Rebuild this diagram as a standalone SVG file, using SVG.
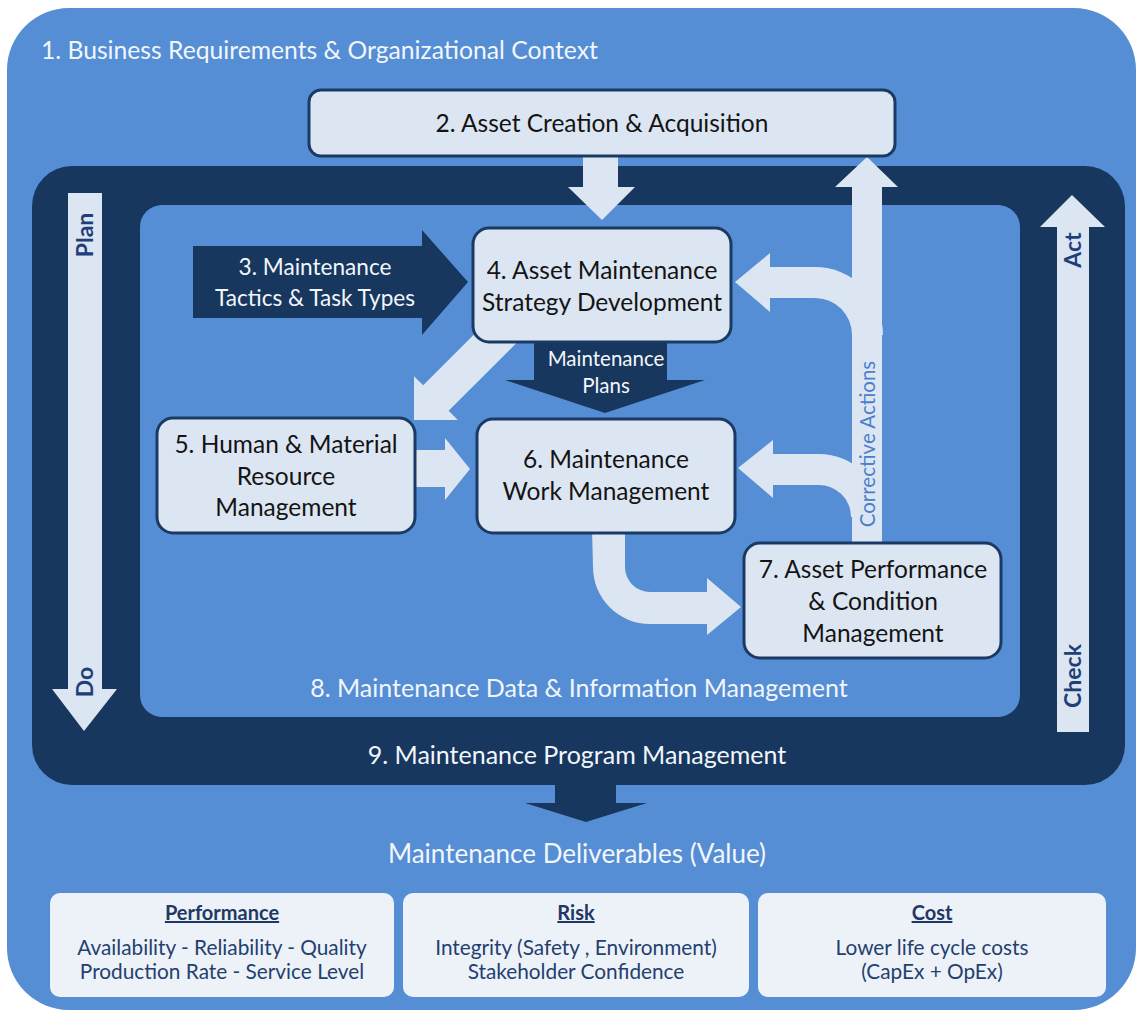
<svg xmlns="http://www.w3.org/2000/svg" width="1143" height="1017" viewBox="0 0 1143 1017">
<style>
text{font-family:Lato,"Noto Sans","Liberation Sans",sans-serif}
.box{fill:#DCE6F2;stroke:#1B3A63;stroke-width:3}
.bt{font-size:24.5px;fill:#141414;text-anchor:middle}
.lt{fill:#DCE6F2}
.nv{fill:#17375E}
.wt{fill:#F2F6FB;text-anchor:middle}
.pd{font-size:23px;font-weight:bold;fill:#1F3F7A;text-anchor:middle}
.vb{fill:#EDF2F9}
.ht{font-size:20px;font-weight:bold;fill:#1F3864;text-anchor:middle;text-decoration:underline}
.bd{font-size:20.8px;fill:#24406E;text-anchor:middle}
</style>
<rect width="1143" height="1017" fill="#FFFFFF"/>
<g id="n1">
<rect x="7" y="8" width="1129" height="1002" rx="62" fill="#558ED5"/>
<text x="41" y="59" font-size="24.7" fill="#F2F6FB">1. Business Requirements &amp; Organizational Context</text>
</g>
<g id="n9">
<rect x="32" y="166" width="1093" height="619" rx="40" class="nv"/>
<text x="577" y="764" font-size="25" class="wt">9. Maintenance Program Management</text>
</g>
<g id="n8">
<rect x="140" y="205" width="880" height="512" rx="22" fill="#558ED5"/>
<text x="579" y="697" font-size="25" class="wt" fill="#DCE6F2">8. Maintenance Data &amp; Information Management</text>
</g>
<g id="pdca">
<polygon class="lt" points="68,193 102,193 102,689 117,689 84,731 52,689 68,689"/>
<text class="pd" transform="translate(93,235) rotate(-90)">Plan</text>
<text class="pd" transform="translate(93,682) rotate(-90)">Do</text>
<polygon class="lt" points="1057,732 1057,227 1040,227 1072,195 1105,227 1089,227 1089,732"/>
<text class="pd" transform="translate(1081,250) rotate(-90)">Act</text>
<text class="pd" transform="translate(1081,676) rotate(-90)">Check</text>
</g>
<g id="connectors">
<polygon class="lt" points="583,150 618,150 618,187 635,187 602,220 568,187 583,187"/>
<polygon class="lt" transform="translate(414,420) rotate(135)" points="-130,-18 -31,-18 -31,-31 0,0 -31,31 -31,18 -130,18"/>
<polygon class="lt" points="410,450 445,450 445,438 470,469 445,500 445,487 410,487"/>
<polygon class="lt" points="852,548 852,187 835,187 867,157 898,187 882,187 882,548"/>
<path class="lt" d="M883,335 A68,68 0 0 0 815,267 L770,267 L770,253 L735,282 L770,312 L770,298 L815,298 A37,37 0 0 1 852,335 Z"/>
<path class="lt" d="M882,517 A63,63 0 0 0 819,454 L773,454 L773,440 L738,468 L773,498 L773,485 L819,485 A32,32 0 0 1 851,517 Z"/>
<path class="lt" d="M592,528 L625,528 L625,567 A25,25 0 0 0 650,592 L707,592 L707,578 L741,607 L707,635 L707,624 L650,624 A57,57 0 0 1 593,567 Z"/>
<text transform="translate(875,444) rotate(-90)" font-size="20.5" fill="#4A80CC" text-anchor="middle">Corrective Actions</text>
<polygon class="nv" points="534,338 667,338 667,380 705,380 605,413 505,380 534,380"/>
<text x="606" y="366" font-size="20.5" class="wt">Maintenance</text>
<text x="606" y="393" font-size="20.5" class="wt">Plans</text>
<polygon class="nv" points="555,780 616,780 616,803 647,803 586,822 525,803 555,803"/>
</g>
<g id="n3">
<polygon class="nv" points="193,246 422,246 422,230 468,282 422,335 422,318 193,318"/>
<text x="315" y="275" font-size="22.6" class="wt">3. Maintenance</text>
<text x="315" y="306" font-size="22.6" class="wt">Tactics &amp; Task Types</text>
</g>
<g id="n2">
<rect x="309" y="90" width="586" height="66" rx="12" class="box"/>
<text x="602" y="132" class="bt">2. Asset Creation &amp; Acquisition</text>
</g>
<g id="n4">
<rect x="473" y="228" width="258" height="114" rx="16" class="box"/>
<text x="602" y="279" class="bt">4. Asset Maintenance</text>
<text x="602" y="311" class="bt">Strategy Development</text>
</g>
<g id="n5">
<rect x="157" y="418" width="258" height="115" rx="16" class="box"/>
<text x="286" y="453" class="bt">5. Human &amp; Material</text>
<text x="286" y="485" class="bt">Resource</text>
<text x="286" y="516" class="bt">Management</text>
</g>
<g id="n6">
<rect x="477" y="419" width="258" height="114" rx="16" class="box"/>
<text x="606" y="468" class="bt">6. Maintenance</text>
<text x="606" y="500" class="bt">Work Management</text>
</g>
<g id="n7">
<rect x="744" y="543" width="257" height="115" rx="16" class="box"/>
<text x="873" y="578" class="bt">7. Asset Performance</text>
<text x="873" y="610" class="bt">&amp; Condition</text>
<text x="873" y="642" class="bt">Management</text>
</g>
<g id="deliverables">
<text x="577" y="863" font-size="26" class="wt">Maintenance Deliverables (Value)</text>
</g>
<g id="performance">
<rect x="50" y="893" width="344" height="104" rx="10" class="vb"/>
<text x="222" y="920" class="ht">Performance</text>
<text x="222" y="955" class="bd">Availability - Reliability - Quality</text>
<text x="222" y="979" class="bd">Production Rate - Service Level</text>
</g>
<g id="risk">
<rect x="403" y="893" width="346" height="104" rx="10" class="vb"/>
<text x="576" y="920" class="ht">Risk</text>
<text x="576" y="955" class="bd">Integrity (Safety , Environment)</text>
<text x="576" y="979" class="bd">Stakeholder Confidence</text>
</g>
<g id="cost">
<rect x="758" y="893" width="348" height="104" rx="10" class="vb"/>
<text x="932" y="920" class="ht">Cost</text>
<text x="932" y="955" class="bd">Lower life cycle costs</text>
<text x="932" y="979" class="bd">(CapEx + OpEx)</text>
</g>
</svg>
